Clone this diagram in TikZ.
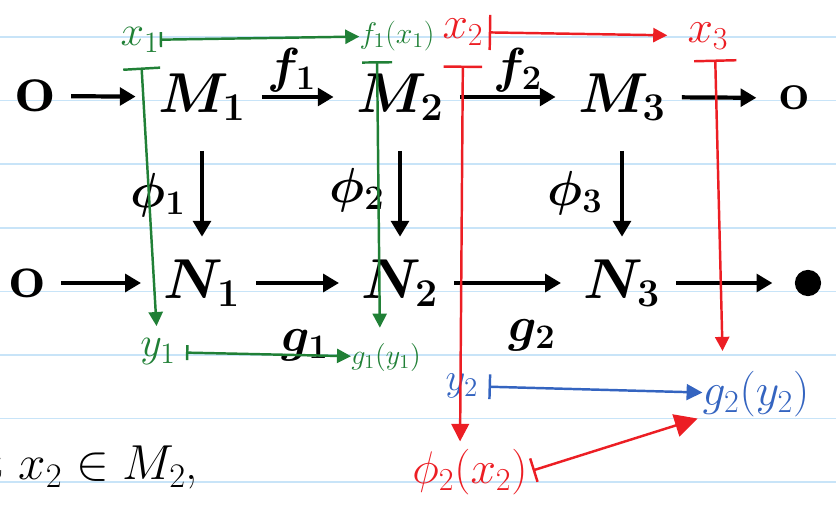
\RequirePackage{fix-cm}
\documentclass[tikz,border=0pt]{standalone}
\usepackage{amsmath,amssymb}
\usepackage{tikz}
\usetikzlibrary{arrows.meta}
\definecolor{inkgreen}{RGB}{32,128,54}
\definecolor{inkred}{RGB}{236,30,36}
\definecolor{inkblue}{RGB}{52,100,192}
\definecolor{ruledline}{RGB}{200,228,248}

\begin{document}
\begin{tikzpicture}[x=0.02cm,y=-0.02cm,line width=0.3pt,
  objtext/.style={inner sep=0pt,font=\fontsize{32}{34}\selectfont\boldmath},
  maptext/.style={inner sep=0pt,font=\fontsize{28}{30}\selectfont\boldmath},
  zerotext/.style={inner sep=0pt,font=\fontsize{40}{42}\selectfont\bfseries},
  blackarrow/.style={line width=2.4pt,-{Triangle[length=9pt,width=10pt]},shorten <=0.32cm,shorten >=0.45cm},
  downarrow/.style={line width=2.4pt,-{Triangle[length=9pt,width=10pt]},shorten <=0.6cm,shorten >=0.45cm},
  greenmap/.style={inkgreen,line width=1.4pt,|-{Triangle[length=8pt,width=8pt]}},
  redmap/.style={inkred,line width=1.4pt,|-{Triangle[length=8pt,width=8pt]}},
  bluemap/.style={inkblue,line width=1.4pt,|-{Triangle[length=8pt,width=8pt]}}]
\useasboundingbox (0,0) rectangle (836,506);
% ruled paper
\foreach \ly in {37,100.5,164,228,291.5,355,418.5,482}
  \draw[ruledline,line width=1.1pt] (0,\ly) -- (836,\ly);

% the two exact rows
\node[zerotext] (zM0) at (35,96) {o};
\node[objtext] (M1) at (202,97) {$M_1$};
\node[objtext] (M2) at (400,97) {$M_2$};
\node[objtext] (M3) at (622,97) {$M_3$};
\node[zerotext,font=\fontsize{30}{32}\selectfont\bfseries] (zM4) at (794,98) {o};
\node[zerotext,font=\fontsize{36}{38}\selectfont\bfseries] (zN0) at (27,283) {o};
\node[objtext] (N1) at (202,283) {$N_1$};
\node[objtext] (N2) at (400,283) {$N_2$};
\node[objtext] (N3) at (622,283) {$N_3$};
\node[circle,draw,fill,line width=3.5pt,minimum size=0.4cm,inner sep=0pt] (zN4) at (808,283) {};

\draw[blackarrow] (zM0) -- (M1);
\draw[blackarrow] (M1) -- (M2);
\draw[blackarrow] (M2) -- (M3);
\draw[blackarrow] (M3) -- (zM4);
\draw[blackarrow] (zN0) -- (N1);
\draw[blackarrow] (N1) -- (N2);
\draw[blackarrow] (N2) -- (N3);
\draw[blackarrow] (N3) -- (zN4);
\draw[downarrow] (M1) -- (N1);
\draw[downarrow] (M2) -- (N2);
\draw[downarrow] (M3) -- (N3);

\node[maptext] (f1lab) at (292,70) {$f_1$};
\node[maptext] (f2lab) at (518,70) {$f_2$};
\node[maptext] (g1lab) at (305,345) {$g_1$};
\node[maptext] (g2lab) at (532,335) {$g_2$};
\node[maptext] (phi1lab) at (158,195) {$\phi_1$};
\node[maptext] (phi2lab) at (357,190) {$\phi_2$};
\node[maptext] (phi3lab) at (575,193) {$\phi_3$};

% element chase
\node[inkgreen,inner sep=0pt,font=\fontsize{24}{26}\selectfont] (x1) at (140,40) {$x_1$};
\node[inkgreen,inner sep=0pt,font=\fontsize{17}{19}\selectfont] (fx1) at (397,36) {$f_1(x_1)$};
\node[inkgreen,inner sep=0pt,font=\fontsize{24}{26}\selectfont] (y1) at (158,352) {$y_1$};
\node[inkgreen,inner sep=0pt,font=\fontsize{16}{18}\selectfont] (gy1) at (386,357) {$g_1(y_1)$};
\node[inkred,inner sep=0pt,font=\fontsize{26}{28}\selectfont] (x2) at (463,32) {$x_2$};
\node[inkred,inner sep=0pt,font=\fontsize{26}{28}\selectfont] (x3) at (708,36) {$x_3$};
\node[inkred,inner sep=0pt,font=\fontsize{26}{28}\selectfont] (phix2) at (470,472) {$\phi_2(x_2)$};
\node[inkblue,inner sep=0pt,font=\fontsize{22}{24}\selectfont] (y2) at (462,386) {$y_2$};
\node[inkblue,inner sep=0pt,font=\fontsize{26}{28}\selectfont] (gy2) at (756,394) {$g_2(y_2)$};

\draw[greenmap,|-{Triangle[length=8pt,width=8pt]}] (x1) -- (fx1);
\draw[greenmap,{Bar[width=21pt]}-{Triangle[length=8pt,width=8pt]},shorten <=0.3cm,shorten >=0.25cm] (x1) -- (y1);
\draw[greenmap,{Bar[width=17pt]}-{Triangle[length=8pt,width=8pt]},shorten <=0.2cm,shorten >=0.3cm] ([xshift=-0.4cm]fx1.south) -- ([xshift=-0.12cm]gy1.north);
\draw[greenmap,shorten <=0.2cm] (y1) -- (gy1);
\draw[redmap,{Bar[width=20pt]}-{Triangle[length=8pt,width=8pt]},shorten <=0.1cm,shorten >=0.4cm] (x2) -- (x3);
\draw[redmap,{Bar[width=22pt]}-{Triangle[length=10pt,width=10pt]},shorten <=0.4cm,shorten >=0.15cm] (x2.south) -- ([xshift=-0.2cm]phix2.north);
\draw[redmap,{Bar[width=24pt]}-{Triangle[length=8pt,width=8pt]},shorten <=0.2cm,shorten >=0.4cm] ([xshift=0.14cm]x3.south) -- ([xshift=-0.66cm]gy2.north);
\draw[redmap,{Bar[width=14pt]}-{Triangle[length=13pt,width=13pt]},shorten <=0.1cm,shorten >=0.1cm] (phix2.east) -- (gy2.south west);
\draw[bluemap,{Bar[width=14pt]}-{Triangle[length=9pt,width=9pt]},shorten <=0.2cm] (y2) -- (gy2);

\node[anchor=base west,inner sep=0pt,font=\fontsize{28}{30}\selectfont] (given) at (-14,480) {t $x_2\in M_2$,};
\end{tikzpicture}
\end{document}
